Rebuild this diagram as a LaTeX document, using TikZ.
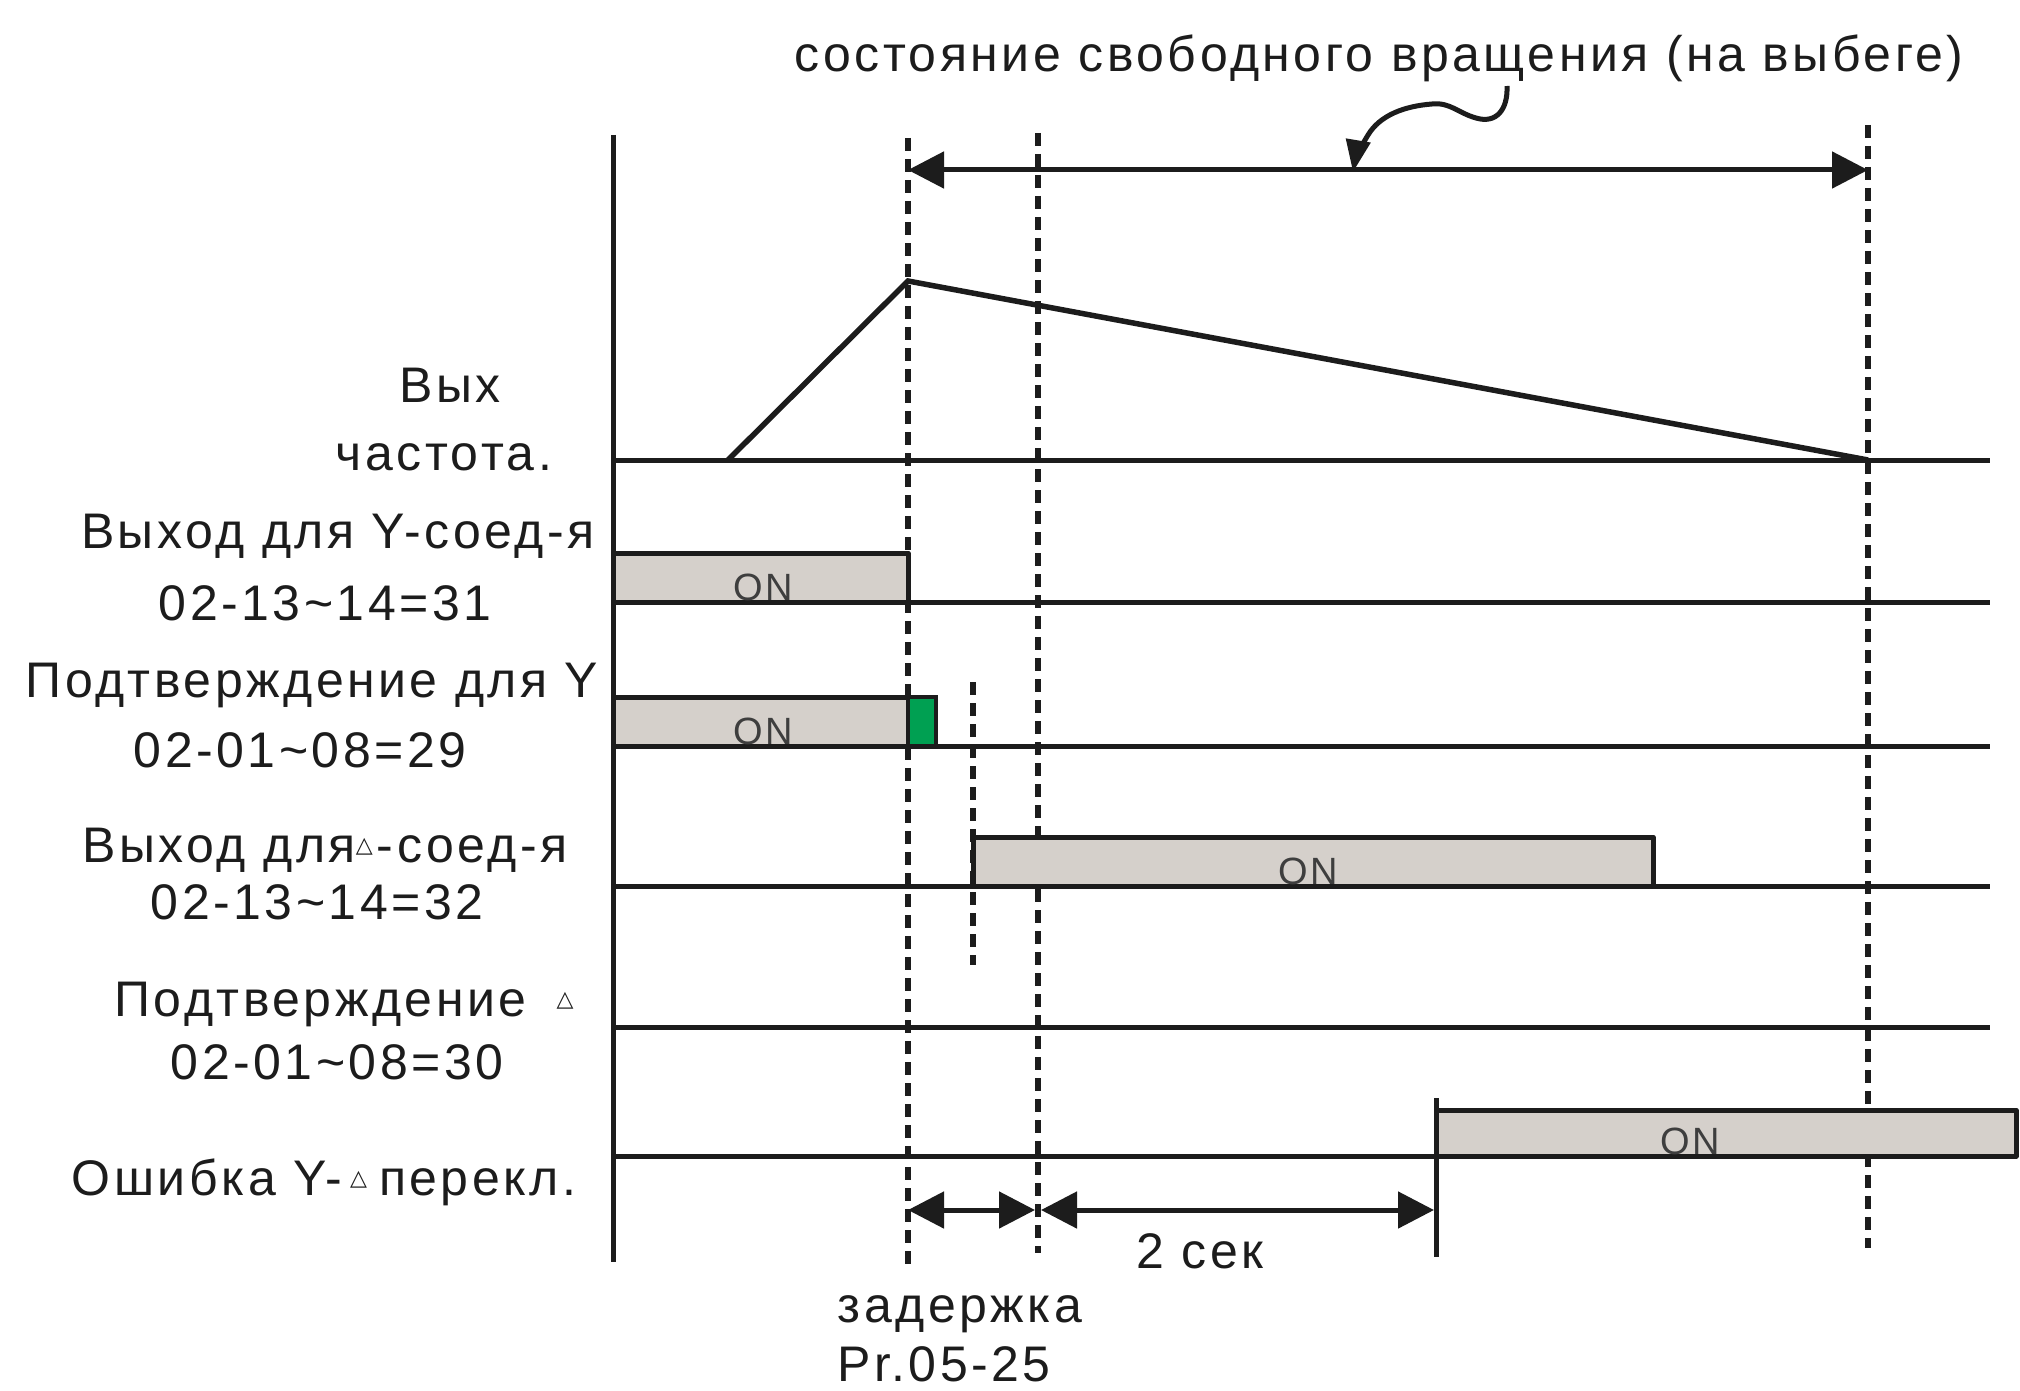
\documentclass[tikz,border=0pt]{standalone}
\usepackage{fontspec}
\setmainfont{Liberation Sans}[LetterSpace=7]
\newfontfamily\symfont{DejaVu Sans}
\usetikzlibrary{arrows.meta}
\definecolor{ongray}{RGB}{213,208,203}
\definecolor{okgreen}{RGB}{0,160,82}
\definecolor{inkc}{RGB}{28,28,28}
\newcommand{\tri}{\raisebox{10pt}{\symfont\fontsize{22}{22}\selectfont △}}
\begin{document}
\begin{tikzpicture}[x=1pt,y=-1pt,
  sigline/.style={draw=inkc, line width=5pt, line cap=butt},
  dashv/.style={draw=inkc, line width=5.5pt, dash pattern=on 13pt off 8pt},
  onbox/.style={fill=ongray, draw=inkc, line width=5pt, line join=round},
  greenbox/.style={fill=okgreen, draw=inkc, line width=4pt},
  lbl/.style={font=\fontsize{50}{60}\selectfont, text=inkc, anchor=base, inner sep=0pt},
  ontxt/.style={font=\fontsize{38}{40}\selectfont, text=inkc!85, anchor=base, inner sep=0pt},
  dimarrow/.style={draw=inkc, line width=5pt, {Triangle[length=36pt,width=36pt]}-{Triangle[length=36pt,width=36pt]}},
]
\useasboundingbox (0,0) rectangle (2020,1391);
\fill[white] (0,0) rectangle (2020,1391);

% coordinates
\coordinate (axT) at (613,135);  \coordinate (axB) at (613,1262);
\coordinate (d1T) at (908,138);  \coordinate (d1B) at (908,1268);
\coordinate (d2T) at (1038,133); \coordinate (d2B) at (1038,1253);
\coordinate (d3T) at (973,682);  \coordinate (d3B) at (973,965);
\coordinate (d4T) at (1868,125); \coordinate (d4B) at (1868,1248);

\coordinate (f0) at (613,460);  \coordinate (fs) at (728,460);
\coordinate (fp) at (908,281);  \coordinate (fe) at (1868,460);
\coordinate (f1) at (1990,460);

\coordinate (r1a) at (613,602);  \coordinate (r1b) at (1990,602);
\coordinate (r2a) at (613,746);  \coordinate (r2b) at (1990,746);
\coordinate (r3a) at (613,886);  \coordinate (r3b) at (1990,886);
\coordinate (r4a) at (613,1027); \coordinate (r4b) at (1990,1027);
\coordinate (r5a) at (613,1156); \coordinate (r5b) at (1990,1156);

\coordinate (b1a) at (613,553);  \coordinate (b1b) at (908,602);
\coordinate (b2a) at (613,697);  \coordinate (b2b) at (908,746);
\coordinate (g2a) at (908,697);  \coordinate (g2b) at (936,746);
\coordinate (b3a) at (973,837);  \coordinate (b3b) at (1653,886);
\coordinate (b5a) at (1436,1110); \coordinate (b5b) at (2016,1156);
\coordinate (e1) at (1436,1098); \coordinate (e2) at (1436,1257);

\coordinate (ta) at (908,170);  \coordinate (tb) at (1868,170);
\coordinate (ba) at (908,1210); \coordinate (bb) at (1035,1210);
\coordinate (bc) at (1041,1210); \coordinate (bd) at (1434,1210);

\coordinate (w0) at (1507,86); \coordinate (w1) at (1476,118);
\coordinate (w2) at (1432,104); \coordinate (w3) at (1368,135);
\coordinate (w4) at (1353,172);

% dashed guides
\draw[dashv] (d1T) -- (d1B);
\draw[dashv] (d2T) -- (d2B);
\draw[dashv] (d3T) -- (d3B);
\draw[dashv] (d4T) -- (d4B);

% axis and baselines
\draw[sigline] (axT) -- (axB);
\draw[sigline] (f0) -- (f1);
\draw[sigline, line width=5.5pt, line join=miter] (fs) -- (fp) -- (fe);
\draw[sigline] (r1a) -- (r1b);
\draw[sigline] (r2a) -- (r2b);
\draw[sigline] (r3a) -- (r3b);
\draw[sigline] (r4a) -- (r4b);
\draw[sigline] (r5a) -- (r5b);

% ON boxes
\draw[onbox] (b1a) rectangle (b1b);
\draw[onbox] (b2a) rectangle (b2b);
\draw[greenbox] (g2a) rectangle (g2b);
\draw[onbox] (b3a) rectangle (b3b);
\draw[onbox] (b5a) rectangle (b5b);
\draw[sigline] (e1) -- (e2);

\node[ontxt] (on1) at (763,600) {ON};
\node[ontxt] (on2) at (763,744) {ON};
\node[ontxt] (on3) at (1308,884) {ON};
\node[ontxt] (on5) at (1690,1154) {ON};

% arrows
\draw[dimarrow] (ta) -- (tb);
\draw[dimarrow] (ba) -- (bb);
\draw[dimarrow] (bc) -- (bd);
\draw[draw=inkc, line width=5pt, -{Triangle[length=32pt,width=24pt]}]
  (w0) .. controls (1508,110) and (1496,124) .. (w1)
       .. controls (1458,113) and (1450,102) .. (w2)
       .. controls (1405,106) and (1380,115) .. (w3)
       .. controls (1360,148) and (1355,160) .. (w4);

% labels
\node[lbl] (top) at (1379,72) {состояние свободного вращения (на выбеге)};
\node[lbl] (l1a) at (450,402) {Вых};
\node[lbl] (l1b) at (444,470) {частота.};
\node[lbl] (l2a) at (338,548) {Выход для Y-соед-я};
\node[lbl] (l2b) at (325,620) {02-13\textasciitilde 14=31};
\node[lbl] (l3a) at (312,697) {Подтверждение для Y};
\node[lbl] (l3b) at (300,767) {02-01\textasciitilde 08=29};
\node[lbl] (l4a) at (325,862) {Выход для\tri\hspace{4pt}-соед-я};
\node[lbl] (l4b) at (317,919) {02-13\textasciitilde 14=32};
\node[lbl] (l5a) at (344,1016) {Подтверждение\hspace{30pt}\tri};
\node[lbl] (l5b) at (337,1079) {02-01\textasciitilde 08=30};
\node[lbl] (l6) at (324,1195) {Ошибка Y-\hspace{8pt}\tri\hspace{12pt}перекл.};
\node[lbl] (t2s) at (1200,1268) {2 сек};
\node[lbl] (tz1) at (960,1322) {задержка};
\node[lbl] (tz2) at (944,1381) {Pr.05-25};
\end{tikzpicture}
\end{document}
